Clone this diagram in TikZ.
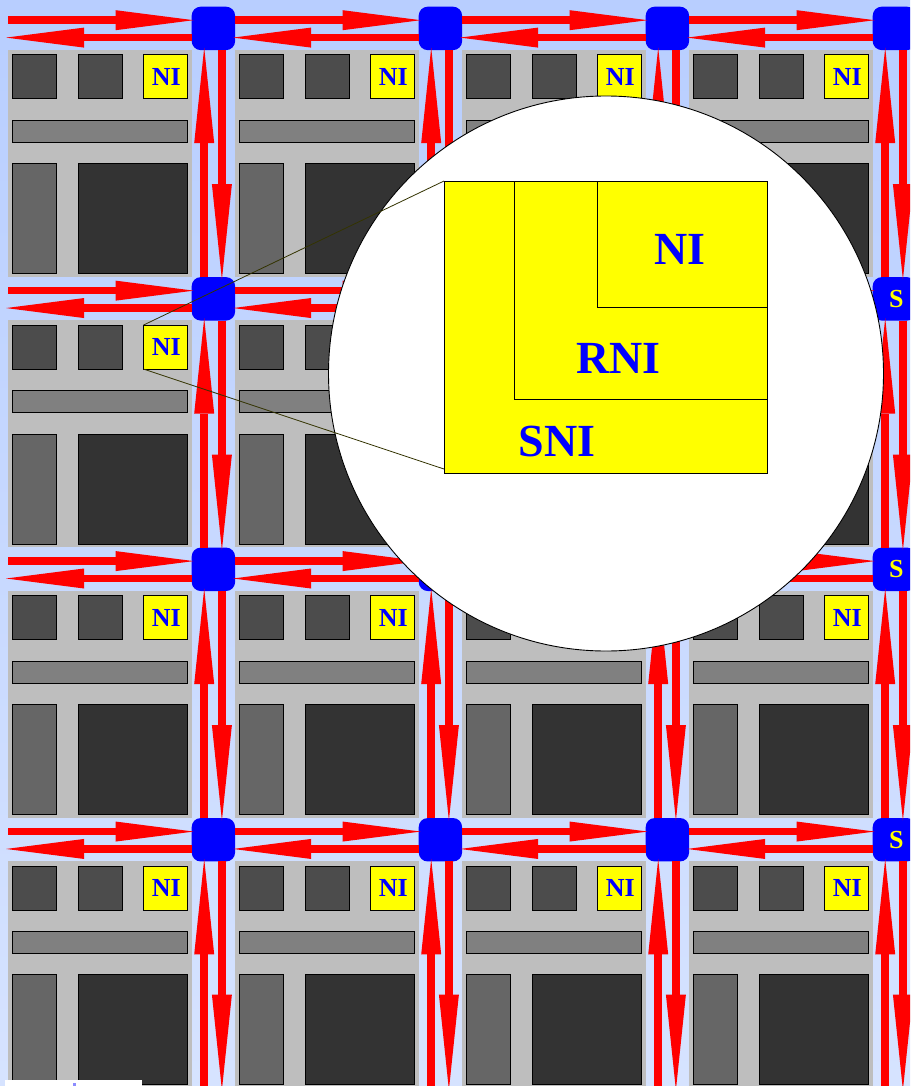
\documentclass[tikz,border=0pt]{standalone}
\usepackage{fontspec}
\setmainfont{Liberation Serif}
\usetikzlibrary{arrows.meta}
\definecolor{bgtop}{HTML}{B8CEFF}
\definecolor{bgbot}{HTML}{D6E3FF}
\definecolor{tilec}{HTML}{BEBEBE}
\definecolor{leader}{HTML}{333300}
\definecolor{ylw}{HTML}{FFFF00}
\definecolor{rd}{HTML}{FF0000}
\definecolor{blu}{HTML}{0000FF}
\tikzset{
  x=1pt,y=-1pt,
  box/.style={rectangle,inner sep=0pt,outer sep=0pt,anchor=north west,minimum width=#1},
  tilebox/.style={box=184pt,minimum height=226.6pt,fill=tilec},
  part/.style={rectangle,inner sep=0pt,outer sep=0pt,anchor=north west,draw=black,line width=.9pt},
  sq1/.style={part,fill=black!70,minimum width=44pt,minimum height=44pt},
  bar/.style={part,fill=black!50,minimum width=175pt,minimum height=22pt},
  tall/.style={part,fill=black!60,minimum width=44pt,minimum height=110pt},
  bigc/.style={part,fill=black!80,minimum width=109.5pt,minimum height=110pt},
  nibox/.style={part,fill=ylw,text=blu,font=\bfseries\fontsize{26}{26}\selectfont,minimum width=44pt,minimum height=44pt},
  router/.style={rectangle,inner sep=0pt,outer sep=0pt,fill=blu,rounded corners=9pt,minimum width=43.4pt,minimum height=43.4pt},
  link/.style={rd,line width=7.5pt},
  hlink/.style={link,shorten >=-2pt,-{Triangle[length=78pt,width=20pt,line width=0pt]}},
  vlink/.style={link,shorten >=-2.5pt,-{Triangle[length=95.5pt,width=20pt,line width=0pt]}},
  slabel/.style={text=ylw,font=\bfseries\fontsize{26}{26}\selectfont,inner sep=0pt},
  zoomrect/.style={rectangle,inner sep=0pt,outer sep=0pt,anchor=north east,draw=black,line width=.7pt,fill=ylw},
  zoomtext/.style={text=blu,inner sep=0pt,font=\bfseries\fontsize{46}{46}\selectfont},
  leaderline/.style={draw=leader,line width=.8pt},
}
\begin{document}
\begin{tikzpicture}
\useasboundingbox (0,0) rectangle (910,1086);
\clip (0,0) rectangle (910,1086);
\fill[top color=bgtop,bottom color=bgbot] (0,0) rectangle (910,1086);
% tiles and routers
\foreach \r in {0,1,2,3}{
 \foreach \c in {0,1,2,3}{
  \begin{scope}[shift={(227*\c,270.45*\r)}]
   \node[tilebox] (tile-\c-\r) at (8,50) {};
   \node[sq1] (a-\c-\r) at (12.3,54.6) {};
   \node[sq1] (b-\c-\r) at (78,54.6) {};
   \node[nibox] (ni-\c-\r) at (143.5,54.6) {\hspace{1.6pt}NI};
   \node[bar] (bar-\c-\r) at (12.3,120.2) {};
   \node[tall] (tall-\c-\r) at (12.3,163.5) {};
   \node[bigc] (big-\c-\r) at (78,163.5) {};
   \node[router] (r-\c-\r) at (213.4,28.4) {};
  \end{scope}
 }
}
\foreach \r in {1,2,3}{ \node[slabel,xshift=2pt] (s-\r) at (r-3-\r) {S}; }
% horizontal links
\foreach \r in {0,1,2,3}{
 \foreach \c in {0,1,2,3}{
  \draw[hlink] ([yshift=8.2pt]r-\c-\r.west -| tile-\c-\r.west) -- ([yshift=8.2pt]r-\c-\r.west);
  \draw[hlink] ([yshift=-9.2pt]r-\c-\r.west) -- ([yshift=-9.2pt]r-\c-\r.west -| tile-\c-\r.west);
 }
}
% vertical links
\foreach \c in {0,1,2,3}{
 \foreach \r/\n in {0/1,1/2,2/3}{
  \draw[vlink] ([xshift=-9.2pt]r-\c-\n.north) -- ([xshift=-9.2pt]r-\c-\r.south);
  \draw[vlink] ([xshift=8.5pt]r-\c-\r.south) -- ([xshift=8.5pt]r-\c-\n.north);
 }
 \coordinate (end-\c) at (213.4+227*\c,1087.5);
 \draw[vlink] ([xshift=-9.2pt]end-\c) -- ([xshift=-9.2pt]r-\c-3.south);
 \draw[vlink] ([xshift=8.5pt]r-\c-3.south) -- ([xshift=8.5pt]end-\c);
}
% bottom-left cut
\node[rectangle,fill=white,inner sep=0pt,anchor=north west,minimum width=137pt,minimum height=7pt] (cut) at (5,1080) {};
\node[rectangle,fill=blu!45,inner sep=0pt,minimum width=3pt,minimum height=3pt] (dot) at (74,1084) {};
% magnifier
\node[circle,fill=white,draw=black,line width=.9pt,minimum size=555pt,inner sep=0pt,outer sep=0pt] (lens) at (606,373.5) {};
\node[zoomrect,minimum width=323pt,minimum height=292pt] (sni) at (767,181) {};
\node[zoomrect,minimum width=253pt,minimum height=218pt] (rni) at (767,181) {};
\node[zoomrect,minimum width=170pt,minimum height=126pt] (nibig) at (767,181) {};
\node[zoomtext] (t1) at (680,249) {NI};
\node[zoomtext] (t2) at (618.5,358) {RNI};
\node[zoomtext] (t3) at (557,441) {SNI};
\coordinate (lowend) at (444,469);
\draw[leaderline] (ni-0-1.north west) -- (sni.north west);
\draw[leaderline] (ni-0-1.south west) -- (lowend);
\end{tikzpicture}
\end{document}
